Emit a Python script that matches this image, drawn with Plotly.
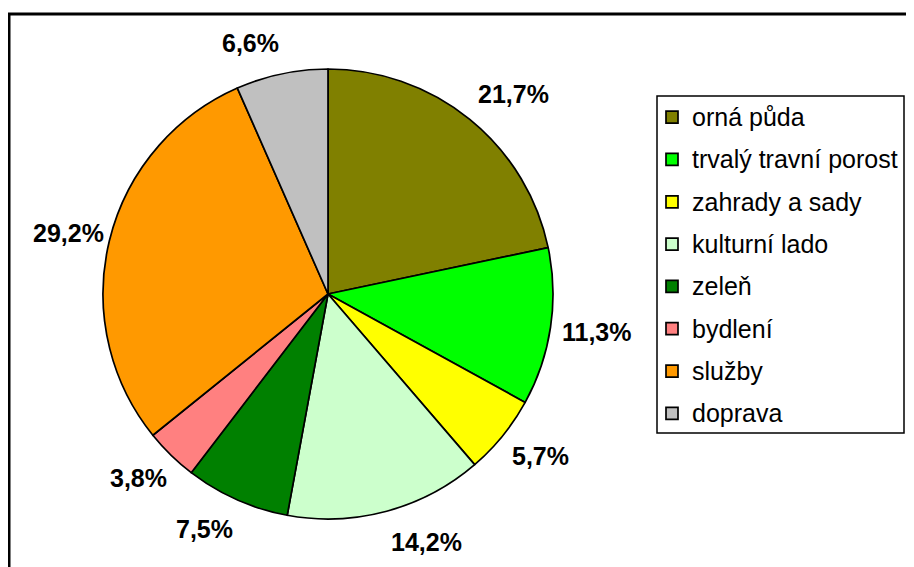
import math
import plotly.graph_objects as go

categories = ["orná půda", "trvalý travní porost", "zahrady a sady", "kulturní lado",
              "zeleň", "bydlení", "služby", "doprava"]
values = [21.7, 11.3, 5.7, 14.2, 7.5, 3.8, 29.2, 6.6]
colors = ["#808000", "#00FF00", "#FFFF00", "#CCFFCC", "#008000", "#FF8080", "#FF9900", "#C0C0C0"]

# figure size (page has an 8px body margin)
W, H = 906, 559
cx, cy, r = 320, 286, 225          # pie centre / radius in px
lab_dx_right, lab_dx_left, lab_dy = 235, 228, 257   # label anchor distances, px

FONT = "Liberation Sans, Arial, sans-serif"

legend_labels = [" <br><span style='font-size:25px;baseline-shift:-5px'>%s</span><br> " % c
                 for c in categories]

fig = go.Figure()
fig.add_trace(go.Pie(
    labels=legend_labels,
    values=values,
    sort=False,
    direction="clockwise",
    rotation=0,
    marker=dict(colors=colors, line=dict(color="black", width=1.7)),
    textinfo="none",
    hoverinfo="percent",
    domain=dict(x=[(cx - r) / W, (cx + r) / W], y=[(H - cy - r) / H, (H - cy + r) / H]),
))

# percentage labels, placed outside each slice at its mid-angle
total = sum(values)
annotations = []
acc = 0.0
for v in values:
    ang = math.radians((acc + v / 2) / total * 360.0)
    acc += v
    s, c = math.sin(ang), math.cos(ang)
    dx = lab_dx_right if s > 0 else lab_dx_left
    annotations.append(dict(
        x=(cx + dx * s) / W, y=1 - (cy - lab_dy * c) / H,
        xref="paper", yref="paper",
        text="<b>%s%%</b>" % ("%.1f" % v).replace(".", ","),
        showarrow=False,
        xanchor="left" if s > 0 else "right", yanchor="middle",
        font=dict(family=FONT, size=25, color="black"),
    ))

fig.update_layout(
    width=W, height=H,
    margin=dict(l=0, r=0, t=0, b=0),
    paper_bgcolor="white",
    font=dict(family=FONT, color="black"),
    showlegend=True,
    annotations=annotations,
    legend=dict(
        x=644 / W, y=1 - 83 / H, xanchor="left", yanchor="top",
        bgcolor="rgba(0,0,0,0)", borderwidth=0,
        font=dict(size=10.08, family=FONT, color="black"),
        traceorder="normal",
    ),
    shapes=[
        dict(type="rect", xref="paper", yref="paper",
             x0=1 / W, x1=1.05, y0=-0.05, y1=1 - 6 / H,
             line=dict(color="black", width=3)),
        dict(type="rect", xref="paper", yref="paper",
             x0=649 / W, x1=896 / W, y0=1 - 425 / H, y1=1 - 88 / H,
             line=dict(color="black", width=1.5)),
    ],
)

fig.write_html("out.html")
